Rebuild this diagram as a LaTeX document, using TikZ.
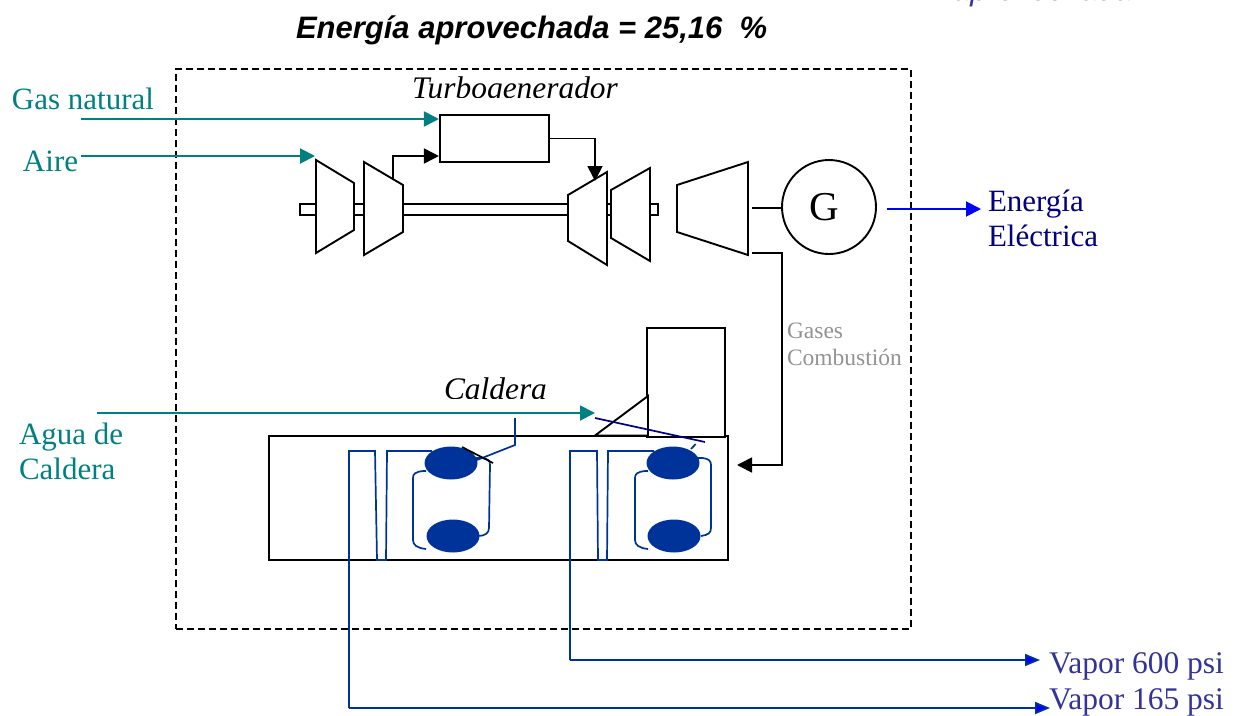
\documentclass[tikz,border=0pt]{standalone}
\usepackage{fontspec}
\setmainfont{Liberation Serif}
\newfontfamily\arialf{Liberation Sans}
\usetikzlibrary{arrows.meta,calc,shapes.geometric}
\definecolor{tealc}{HTML}{008080}
\definecolor{tubec}{HTML}{003399}
\definecolor{navyc}{HTML}{000080}
\definecolor{bluec}{HTML}{0000FF}
\definecolor{vapc}{HTML}{333399}
\tikzset{
 txt/.style={inner sep=0pt,outer sep=0pt,anchor=base west},
 big/.style={txt,font=\fontsize{31}{31}\selectfont},
 ital/.style={txt,font=\fontsize{31.4}{31.4}\selectfont\itshape,text=black},
 title/.style={txt,font=\arialf\fontsize{31}{31}\selectfont\bfseries\itshape},
 mech/.style={draw=black,line width=1.9pt,fill=white,line join=miter},
 tealarrow/.style={draw=tealc,line width=1.9pt,-{Triangle[length=15pt,width=15pt,fill=tealc]}},
 blackarrow/.style={draw=black,line width=1.7pt,-{Triangle[length=15pt,width=15pt,fill=black]}},
 bluearrow/.style={draw=bluec,line width=1.7pt,-{Triangle[length=15pt,width=12pt,fill=bluec]}},
 energyarrow/.style={draw=bluec,line width=1.9pt,-{Triangle[length=15pt,width=15pt,fill=bluec]}},
 tube/.style={draw=tubec,line width=1.7pt},
 ring/.style={draw=tubec,line width=1.7pt},
 drum/.style={ellipse,fill=tubec,inner sep=0pt,minimum width=53pt,minimum height=33pt},
 vaplabel/.style={txt,text=vapc,font=\fontsize{31.5}{31.5}\selectfont},
 gaslabel/.style={txt,text=gray!85,font=\fontsize{23.5}{23.5}\selectfont},
 elec/.style={txt,text=navyc,font=\fontsize{31}{31}\selectfont},
}
\begin{document}
\begin{tikzpicture}[x=1pt,y=-1pt]
\useasboundingbox (0,0) rectangle (1244,715);
\begin{scope}
\clip (0,0) rectangle (1244,715);
\node[title,text=black] (titulo) at (296,38) {Energía aprovechada = 25,16\ \ \%};
\node[txt,text=vapc,font=\arialf\fontsize{31}{31}\selectfont\itshape] (aprov) at (953,0.5) {aprovechada};
\end{scope}
\node[draw=black,dashed,dash pattern=on 7pt off 4pt,line width=1.5pt,inner sep=0pt,minimum width=735pt,minimum height=560pt] (limite) at (543.5,349) {};
\begin{scope}
\clip (300,60) rectangle (700,97.5);
\node[ital] (turbo) at (412,98) {Turbogenerador};
\end{scope}
\begin{scope}
\clip (400,360) rectangle (600,398);
\node[ital] (caldera) at (444,399) {Caldera};
\end{scope}
\node[draw=black,line width=1.9pt,fill=white,inner sep=0pt,minimum width=358pt,minimum height=11pt] (eje) at (479,209.5) {};
\node[draw=black,line width=2.1pt,fill=white,inner sep=0pt,minimum width=109pt,minimum height=47pt] (camara) at (494.5,138.5) {};
\draw[mech] (316,160) -- (354,183) -- (354,230) -- (316,253) -- cycle;
\draw[mech] (364,162) -- (403,185) -- (403,232) -- (364,255) -- cycle;
\draw[mech] (568,195) -- (607,172) -- (607,265) -- (568,241) -- cycle;
\draw[mech] (611,190) -- (650,168) -- (650,261) -- (611,238) -- cycle;
\draw[mech] (677,185) -- (748,162) -- (748,255) -- (677,232) -- cycle;
\node[circle,draw=black,line width=1.9pt,fill=white,inner sep=0pt,minimum size=94pt,font=\fontsize{41}{41}\selectfont] (gen) at (829,207) {\hspace*{-9pt}G};
\coordinate (t5a) at (752,208);
\coordinate (t5b) at (752,253);
\draw[black,line width=1.7pt] (t5a) -- (gen.west |- t5a);
\coordinate (gasIn) at (81,119);
\coordinate (aireIn) at (81,156);
\coordinate (aireOut) at (315,156);
\coordinate (compOut) at (393,180);
\coordinate (turbIn) at (595,181);
\draw[tealarrow] (gasIn) -- (camara.west |- gasIn);
\draw[tealarrow] (aireIn) -- (aireOut);
\draw[blackarrow] (compOut) |- (camara.west |- aireIn);
\draw[blackarrow] (camara.east) -| (turbIn);
\node[draw=black,line width=2.9pt,fill=white,inner sep=0pt,minimum width=459pt,minimum height=124pt] (caldero) at (498.5,498) {};
\node[draw=black,line width=1.9pt,fill=white,inner sep=0pt,minimum width=78pt,minimum height=109pt] (chimenea) at (686,382.5) {};
\draw[black,line width=1.9pt,fill=white] (595,435.5) -- (648,396) -- (648,435.5) -- cycle;
\coordinate (aguaIn) at (97,413);
\coordinate (aguaOut) at (595,413);
\draw[tealarrow] (aguaIn) -- (aguaOut);
\coordinate (gasBoiler) at (737,465);
\draw[blackarrow] (t5b) -- (782,253) -- (782,465) -- (gasBoiler);
\coordinate (eStart) at (887,209);
\coordinate (eOut) at (981,209);
\draw[energyarrow] (eStart) -- (eOut);
\node[drum] (d1) at (451,463) {};
\node[drum] (d2) at (453,536) {};
\node[drum] (d3) at (673,463) {};
\node[drum] (d4) at (674,536) {};
\coordinate (v1) at (1050,708);
\coordinate (v2) at (1040,660);
\draw[tube] (432,451) -- (387,451) -- (386,560) -- (377,560) -- (375,451) -- (349,451) -- (349,708);
\draw[bluearrow,draw=tubec] (349,708) -- (v1);
\draw[tube] (654,451) -- (608,451) -- (607,560) -- (598,560) -- (597,451) -- (570,451) -- (570,660);
\draw[bluearrow,draw=tubec] (570,660) -- (v2);
\draw[ring] (426,471) -- (423,471) .. controls (415,472) and (413,474) .. (413,478) -- (413,540) .. controls (413,545) and (417,548) .. (426,549);
\draw[ring] (476,458) -- (482,458) .. controls (488,459) and (490,460) .. (490,465) -- (489,528) .. controls (489,533) and (485,536) .. (478,536);
\draw[ring] (648,471) -- (645,471) .. controls (637,472) and (635,474) .. (635,478) -- (635,540) .. controls (635,545) and (639,548) .. (648,549);
\draw[ring] (697,458) -- (703,458) .. controls (709,459) and (711,461) .. (711,465) -- (711,528) .. controls (711,533) and (708,535) .. (701,536);
\draw[tube] (477,460) -- (515,445) -- (515,418);
\draw[black,line width=1.7pt] (462,447) -- (493,463);
\draw[draw=navyc,line width=1.7pt] (595,418) -- (705,442);
\draw[tube] (695.7,444) -- (691,449);
\node[big,text=tealc] (lgas) at (12,109) {Gas natural};
\node[big,text=tealc] (laire) at (23,171) {Aire};
\node[big,text=tealc] (lagua1) at (19,444) {Agua de};
\node[big,text=tealc] (lagua2) at (19,479) {Caldera};
\node[elec] (le1) at (988,211) {Energía};
\node[elec] (le2) at (988,246) {Eléctrica};
\node[gaslabel] (lg1) at (787,338) {Gases};
\node[gaslabel] (lg2) at (787,365) {Combustión};
\node[vaplabel] (lv1) at (1049,673) {Vapor 600 psi};
\node[vaplabel] (lv2) at (1049,709) {Vapor 165 psi};
\end{tikzpicture}
\end{document}
